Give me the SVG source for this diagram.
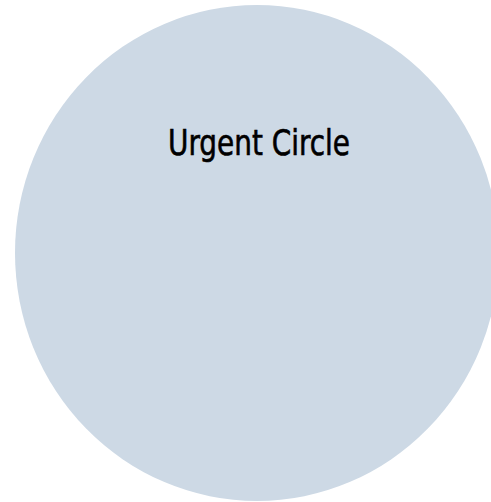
<svg xmlns="http://www.w3.org/2000/svg" width="491" height="502" viewBox="0 0 491 502">
<style>
.shape{fill:#cdd9e5;stroke:none}
.label{font-family:"DejaVu Sans Condensed","Liberation Sans",sans-serif;font-size:35px;fill:#000;stroke:#000;stroke-width:0.6;text-anchor:middle}
</style>
<rect width="491" height="502" fill="#ffffff"/>
<g id="urgent-circle">
<ellipse class="shape" cx="257" cy="253" rx="242" ry="248"/>
<text class="label" x="259" y="155" textLength="182" lengthAdjust="spacingAndGlyphs">Urgent Circle</text>
</g>
<g id="connectors"/>
</svg>
